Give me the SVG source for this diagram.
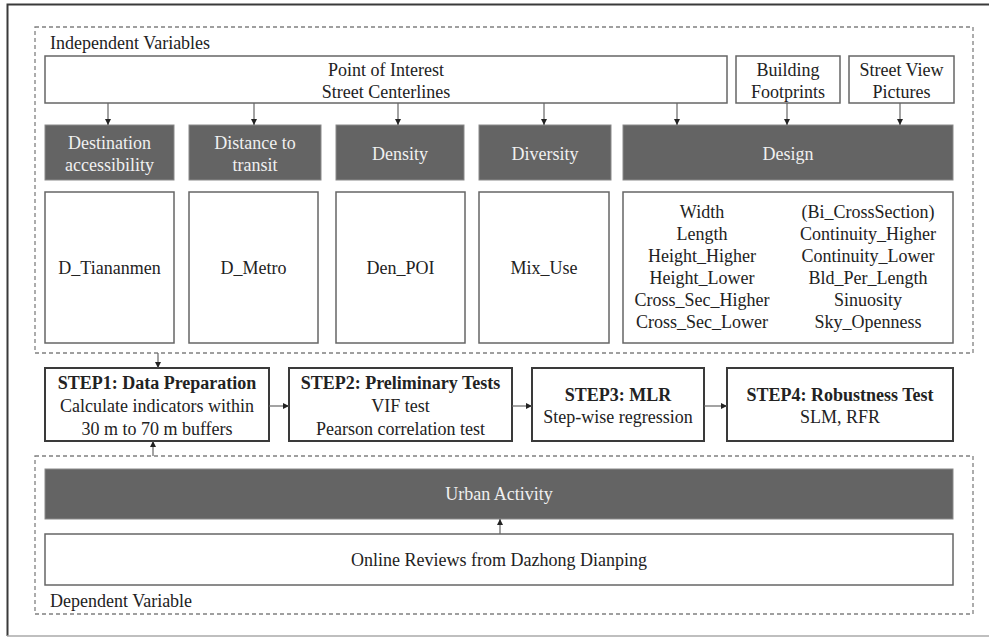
<svg xmlns="http://www.w3.org/2000/svg" width="989" height="637" viewBox="0 0 989 637">
<defs>
<marker id="ah" viewBox="0 0 6 6" refX="6" refY="3" markerWidth="6" markerHeight="6" markerUnits="userSpaceOnUse" orient="auto">
<path d="M0,0 L6,3 L0,6 Z" fill="#222"/>
</marker>
</defs>
<style>
text{font-family:"Liberation Serif","Times New Roman",serif;font-size:18px;fill:#222}
.c{text-anchor:middle}
.w{fill:#f0f0f0}
.b{font-weight:bold}
.dash{fill:none;stroke:#808080;stroke-width:1.3;stroke-dasharray:4 3}
.box{fill:#fff;stroke:#666;stroke-width:1.5}
.dark{fill:#646464;stroke:#8a8a8a;stroke-width:1}
.step{fill:#fff;stroke:#3a3a3a;stroke-width:2}
.con{stroke:#666;stroke-width:1.2;fill:none;marker-end:url(#ah)}
</style>
<rect width="989" height="637" fill="#fff"/>
<g id="frame">
<path d="M989,4.5 H7.5 V636" fill="none" stroke="#3a3a3a" stroke-width="2"/>
<line x1="7" y1="636" x2="989" y2="636" stroke="#aaa" stroke-width="1.5"/>
</g>
<g id="independent">
<rect class="dash" x="35" y="27" width="938" height="326"/>
<text x="50" y="49">Independent Variables</text>
</g>
<g id="dependent">
<rect class="dash" x="35" y="456" width="938" height="158"/>
<text x="50" y="607">Dependent Variable</text>
</g>
<g id="poi">
<rect class="box" x="45" y="56" width="682" height="47"/>
<text class="c" x="386" y="76">Point of Interest</text>
<text class="c" x="386" y="98">Street Centerlines</text>
</g>
<g id="building">
<rect class="box" x="736" y="56" width="104" height="47"/>
<text class="c" x="788" y="76">Building</text>
<text class="c" x="788" y="98">Footprints</text>
</g>
<g id="streetview">
<rect class="box" x="849" y="56" width="105" height="47"/>
<text class="c" x="901.5" y="76">Street View</text>
<text class="c" x="901.5" y="98">Pictures</text>
</g>
<g id="dest">
<rect class="dark" x="45" y="125" width="129" height="55"/>
<text class="c w" x="109.5" y="149">Destination</text>
<text class="c w" x="109.5" y="171">accessibility</text>
</g>
<g id="transit">
<rect class="dark" x="189" y="125" width="132" height="55"/>
<text class="c w" x="255" y="149">Distance to</text>
<text class="c w" x="255" y="171">transit</text>
</g>
<g id="density">
<rect class="dark" x="336" y="125" width="128" height="55"/>
<text class="c w" x="400" y="160">Density</text>
</g>
<g id="diversity">
<rect class="dark" x="479" y="125" width="132" height="55"/>
<text class="c w" x="545" y="160">Diversity</text>
</g>
<g id="design">
<rect class="dark" x="623" y="125" width="330" height="55"/>
<text class="c w" x="788" y="160">Design</text>
</g>
<g id="d_tiananmen">
<rect class="box" x="45" y="192" width="129" height="151"/>
<text class="c" x="109.5" y="274">D_Tiananmen</text>
</g>
<g id="d_metro">
<rect class="box" x="189" y="192" width="129" height="151"/>
<text class="c" x="253.5" y="274">D_Metro</text>
</g>
<g id="den_poi">
<rect class="box" x="336" y="192" width="129" height="151"/>
<text class="c" x="400.5" y="274">Den_POI</text>
</g>
<g id="mix_use">
<rect class="box" x="479" y="192" width="130" height="151"/>
<text class="c" x="544" y="274">Mix_Use</text>
</g>
<g id="design_vars">
<rect class="box" x="623" y="192" width="330" height="151"/>
<text class="c" x="702" y="218">Width</text>
<text class="c" x="702" y="240">Length</text>
<text class="c" x="702" y="262">Height_Higher</text>
<text class="c" x="702" y="284">Height_Lower</text>
<text class="c" x="702" y="306">Cross_Sec_Higher</text>
<text class="c" x="702" y="328">Cross_Sec_Lower</text>
<text class="c" x="868" y="218">(Bi_CrossSection)</text>
<text class="c" x="868" y="240">Continuity_Higher</text>
<text class="c" x="868" y="262">Continuity_Lower</text>
<text class="c" x="868" y="284">Bld_Per_Length</text>
<text class="c" x="868" y="306">Sinuosity</text>
<text class="c" x="868" y="328">Sky_Openness</text>
</g>
<g id="step1">
<rect class="step" x="45" y="368" width="224" height="73"/>
<text class="c b" x="157" y="389">STEP1: Data Preparation</text>
<text class="c" x="157" y="412">Calculate indicators within</text>
<text class="c" x="157" y="435">30 m to 70 m buffers</text>
</g>
<g id="step2">
<rect class="step" x="289" y="368" width="223" height="73"/>
<text class="c b" x="400.5" y="389">STEP2: Preliminary Tests</text>
<text class="c" x="400.5" y="412">VIF test</text>
<text class="c" x="400.5" y="435">Pearson correlation test</text>
</g>
<g id="step3">
<rect class="step" x="532" y="368" width="172" height="73"/>
<text class="c b" x="618" y="401">STEP3: MLR</text>
<text class="c" x="618" y="423">Step-wise regression</text>
</g>
<g id="step4">
<rect class="step" x="727" y="368" width="226" height="73"/>
<text class="c b" x="840" y="401">STEP4: Robustness Test</text>
<text class="c" x="840" y="423">SLM, RFR</text>
</g>
<g id="urban_activity">
<rect class="dark" x="45" y="469" width="908" height="50"/>
<text class="c w" x="499" y="500">Urban Activity</text>
</g>
<g id="online_reviews">
<rect class="box" x="45" y="534" width="908" height="51"/>
<text class="c" x="499" y="566">Online Reviews from Dazhong Dianping</text>
</g>
<g id="connectors">
<line class="con" x1="108" y1="103" x2="108" y2="125"/>
<line class="con" x1="254" y1="103" x2="254" y2="125"/>
<line class="con" x1="398" y1="103" x2="398" y2="125"/>
<line class="con" x1="544" y1="103" x2="544" y2="125"/>
<line class="con" x1="677" y1="103" x2="677" y2="125"/>
<line class="con" x1="787" y1="103" x2="787" y2="125"/>
<line class="con" x1="900" y1="103" x2="900" y2="125"/>
<line class="con" x1="158" y1="353" x2="158" y2="368"/>
<line class="con" x1="153" y1="456" x2="153" y2="441"/>
<line class="con" x1="269" y1="406" x2="289" y2="406"/>
<line class="con" x1="512" y1="406" x2="532" y2="406"/>
<line class="con" x1="704" y1="406" x2="727" y2="406"/>
<line class="con" x1="500" y1="534" x2="500" y2="519"/>
</g>
</svg>
